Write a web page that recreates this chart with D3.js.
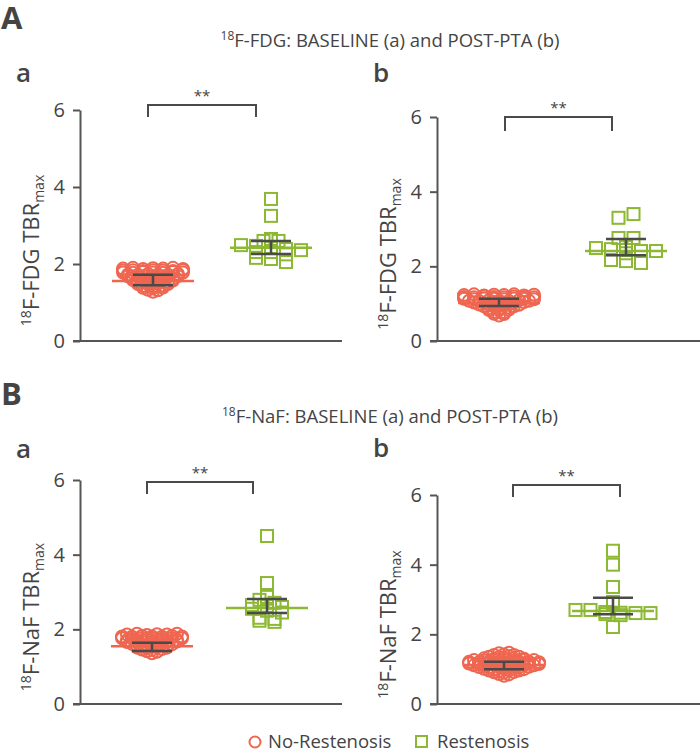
<!DOCTYPE html>
<html>
<head>
<meta charset="utf-8">
<script src="https://cdn.jsdelivr.net/npm/d3@7"></script>
<style>
    body { margin: 0; background: #fff; }
    text { font-family: "Open Sans", sans-serif; fill: #444; }
</style>
</head>
<body>
<svg id="chart" width="700" height="753"></svg>
<script>
    // groups and y ticks
    const groups = ["No-Restenosis", "Restenosis"];
    const yTicks = [0, 2, 4, 6];

    // 18F-FDG baseline (A a)
    const fdgBaseNo = [1.88, 1.9, 1.87, 1.89, 1.88, 1.9, 1.87,
        1.83, 1.84, 1.82, 1.84, 1.83, 1.82, 1.84,
        1.78, 1.77, 1.79, 1.78, 1.77, 1.79, 1.78,
        1.73, 1.72, 1.74, 1.73, 1.72, 1.74,
        1.68, 1.67, 1.69, 1.68, 1.67, 1.69,
        1.63, 1.62, 1.64, 1.63, 1.62,
        1.58, 1.57, 1.59, 1.58, 1.57,
        1.53, 1.52, 1.54, 1.53,
        1.48, 1.47, 1.49, 1.48,
        1.43, 1.42, 1.44,
        1.38, 1.37, 1.39,
        1.33, 1.32,
        1.28];
    const fdgBaseRe = [3.69, 3.25, 2.65, 2.6, 2.6, 2.49, 2.47, 2.42, 2.39, 2.36, 2.31, 2.31, 2.25, 2.16, 2.13, 2.05];
    const fdgBaseMed = [1.56, 2.42];
    const fdgBaseLo = [1.45, 2.26];
    const fdgBaseHi = [1.72, 2.6];

    // 18F-FDG post-PTA (A b)
    const fdgPostNo = [1.23, 1.25, 1.22, 1.24, 1.23, 1.25, 1.22, 1.24,
        1.18, 1.17, 1.19, 1.18, 1.17, 1.19, 1.18, 1.17,
        1.13, 1.12, 1.14, 1.13, 1.12, 1.14, 1.13, 1.12,
        1.08, 1.07, 1.09, 1.08, 1.07, 1.09, 1.08,
        1.03, 1.02, 1.04, 1.03, 1.02, 1.04,
        0.98, 0.97, 0.99, 0.98, 0.97,
        0.93, 0.92, 0.94, 0.93,
        0.88, 0.87, 0.89,
        0.83, 0.82, 0.84,
        0.78, 0.77,
        0.73, 0.72,
        0.68];
    const fdgPostRe = [3.3, 3.4, 2.76, 2.76, 2.52, 2.49, 2.46, 2.44, 2.41, 2.41, 2.35, 2.17, 2.14, 2.09];
    const fdgPostMed = [1.02, 2.41];
    const fdgPostLo = [0.94, 2.3];
    const fdgPostHi = [1.13, 2.73];

    // 18F-NaF baseline (B a)
    const nafBaseNo = [1.86, 1.88, 1.85, 1.87, 1.86, 1.88,
        1.81, 1.8, 1.82, 1.81, 1.8, 1.82, 1.81,
        1.76, 1.75, 1.77, 1.76, 1.75, 1.77, 1.76,
        1.71, 1.7, 1.72, 1.71, 1.7, 1.72,
        1.66, 1.65, 1.67, 1.66, 1.65, 1.67,
        1.61, 1.6, 1.62, 1.61, 1.6,
        1.56, 1.55, 1.57, 1.56,
        1.51, 1.5, 1.52, 1.51,
        1.46, 1.45, 1.47,
        1.41, 1.4,
        1.36];
    const nafBaseRe = [4.5, 3.24, 2.87, 2.79, 2.71, 2.65, 2.63, 2.6, 2.55, 2.5, 2.45, 2.31, 2.28, 2.23, 2.2];
    const nafBaseMed = [1.55, 2.57];
    const nafBaseLo = [1.42, 2.44];
    const nafBaseHi = [1.64, 2.81];

    // 18F-NaF post-PTA (B b)
    const nafPostNo = [1.46, 1.47,
        1.41, 1.42, 1.41,
        1.36, 1.35, 1.37, 1.36,
        1.31, 1.3, 1.32, 1.31, 1.3,
        1.26, 1.25, 1.27, 1.26, 1.25, 1.27, 1.26,
        1.21, 1.2, 1.22, 1.21, 1.2, 1.22, 1.21, 1.2,
        1.16, 1.15, 1.17, 1.16, 1.15, 1.17, 1.16, 1.15,
        1.11, 1.1, 1.12, 1.11, 1.1, 1.12, 1.11,
        1.06, 1.05, 1.07, 1.06, 1.05, 1.07,
        1.01, 1.0, 1.02, 1.01, 1.0,
        0.96, 0.95, 0.97, 0.96,
        0.91, 0.9, 0.92,
        0.86, 0.85,
        0.81];
    const nafPostRe = [4.4, 4.0, 3.36, 2.93, 2.9, 2.7, 2.7, 2.64, 2.62, 2.61, 2.61, 2.58, 2.55, 2.21];
    const nafPostMed = [1.12, 2.67];
    const nafPostLo = [1.0, 2.58];
    const nafPostHi = [1.21, 3.05];

    const red = "#ef6650";
    const green = "#8cb833";
    const dark = "#4a4a4a";
    const axisColor = "#555";

    const svg = d3.select("#chart");

    //pannelli: posizione degli assi e delle parentesi
    const panels = [
        {label: "a", tracer: "FDG", no: fdgBaseNo, re: fdgBaseRe, med: fdgBaseMed, lo: fdgBaseLo, hi: fdgBaseHi,
         ax: 80, y0: 341, y6: 110, xEnd: 342, c: [73, 191], br: [148, 256], brTop: 105, brBot: 117, lx: [16, 82]},
        {label: "b", tracer: "FDG", no: fdgPostNo, re: fdgPostRe, med: fdgPostMed, lo: fdgPostLo, hi: fdgPostHi,
         ax: 437, y0: 341, y6: 117, xEnd: 700, c: [62, 189], br: [505, 612], brTop: 117, brBot: 131, lx: [373, 82]},
        {label: "a", tracer: "NaF", no: nafBaseNo, re: nafBaseRe, med: nafBaseMed, lo: nafBaseLo, hi: nafBaseHi,
         ax: 80, y0: 704, y6: 480, xEnd: 342, c: [72, 187], br: [147, 253], brTop: 482, brBot: 494, lx: [16, 458]},
        {label: "b", tracer: "NaF", no: nafPostNo, re: nafPostRe, med: nafPostMed, lo: nafPostLo, hi: nafPostHi,
         ax: 437, y0: 704, y6: 495, xEnd: 700, c: [67, 176], br: [513, 620], brTop: 485, brBot: 497, lx: [373, 457]}
    ];

    // disposizione a righe stile "scatter dot plot": i punti di una stessa fascia di valori vengono affiancati
    function swarm(values, cx, binSize, spacing) {
        let vmax = d3.max(values);
        let rows = d3.group(values.map((v, i) => ({v, i})), d => Math.floor((vmax - d.v) / binSize + 1e-9));
        let out = [];
        for (let [, row] of rows) {
            row.forEach((d, k) => out.push({v: d.v, x: cx + (k - (row.length - 1) / 2) * spacing}));
        }
        return out;
    }

    function drawPanel(p) {
        let g = svg.append("g");
        let y = d3.scaleLinear().domain([0, 6]).range([p.y0, p.y6]);
        let x = d3.scalePoint().domain(groups).range([p.ax + p.c[0], p.ax + p.c[1]]);

        let axis = g.append("g")
            .attr("transform", `translate(${p.ax},0)`)
            .call(d3.axisLeft(y).tickValues(yTicks).tickFormat(d3.format("d"))
                .tickSize(7).tickSizeOuter(0).tickPadding(8));
        axis.select(".domain").attr("stroke", axisColor).attr("stroke-width", 2);
        axis.selectAll(".tick line").attr("stroke", axisColor).attr("stroke-width", 2);
        axis.selectAll(".tick text").attr("font-size", 20).attr("font-family", "Open Sans").attr("fill", "#444");

        g.append("line")
            .attr("x1", p.ax - 7).attr("x2", p.xEnd)
            .attr("y1", y(0)).attr("y2", y(0))
            .attr("stroke", axisColor).attr("stroke-width", 2);

        // punti
        g.append("g").selectAll("circle")
            .data(swarm(p.no, x(groups[0]), 0.05, 10))
            .join("circle")
            .attr("cx", d => d.x).attr("cy", d => y(d.v)).attr("r", 6)
            .attr("fill", "none").attr("stroke", red).attr("stroke-width", 2);
        g.append("g").selectAll("rect")
            .data(swarm(p.re, x(groups[1]), 0.15, 15))
            .join("rect")
            .attr("x", d => d.x - 6).attr("y", d => y(d.v) - 6)
            .attr("width", 12).attr("height", 12)
            .attr("fill", "none").attr("stroke", green).attr("stroke-width", 2);

        // mediana
        g.selectAll(".med")
            .data(groups)
            .join("line")
            .attr("x1", d => x(d) - 41).attr("x2", d => x(d) + 41)
            .attr("y1", (d, i) => y(p.med[i])).attr("y2", (d, i) => y(p.med[i]))
            .attr("stroke", (d, i) => i ? green : red).attr("stroke-width", 2.5);

        // barre di errore
        groups.forEach((grp, i) => {
            let cx = x(grp);
            g.append("path")
                .attr("d", `M${cx},${y(p.hi[i])}V${y(p.lo[i])}M${cx - 20},${y(p.hi[i])}H${cx + 20}M${cx - 20},${y(p.lo[i])}H${cx + 20}`)
                .attr("fill", "none").attr("stroke", dark).attr("stroke-width", 2.5);
        });

        // parentesi di significatività
        g.append("path")
            .attr("d", `M${p.br[0]},${p.brBot}V${p.brTop}H${p.br[1]}V${p.brBot}`)
            .attr("fill", "none").attr("stroke", dark).attr("stroke-width", 2);
        g.append("text")
            .attr("x", (p.br[0] + p.br[1]) / 2).attr("y", p.brTop - 4)
            .attr("text-anchor", "middle").attr("font-size", 15)
            .text("**");

        // etichetta asse y
        let yl = g.append("text")
            .attr("transform", `translate(${p.ax - 41},${(p.y0 + p.y6) / 2 + 25}) rotate(-90)`)
            .attr("text-anchor", "middle").attr("font-size", 22);
        yl.append("tspan").attr("font-size", 14).attr("dy", -8).text("18");
        yl.append("tspan").attr("dy", 8).text(`F-${p.tracer} TBR`);
        yl.append("tspan").attr("font-size", 14).attr("dy", 5).text("max");

        svg.append("text")
            .attr("x", p.lx[0]).attr("y", p.lx[1])
            .attr("font-size", 26).attr("font-weight", 600).attr("fill", "#333")
            .text(p.label);
    }

    panels.forEach(drawPanel);

    // lettere e titoli delle sezioni
    [["A", 29, 47, "FDG"], ["B", 405, 423, "NaF"]].forEach(s => {
        svg.append("text").attr("x", 1).attr("y", s[1])
            .attr("font-family", "Liberation Sans")
            .attr("font-size", 31).attr("font-weight", 700).attr("fill", "#333")
            .text(s[0]);
        let t = svg.append("text").attr("x", 390).attr("y", s[2])
            .attr("text-anchor", "middle").attr("font-size", 18.5);
        t.append("tspan").attr("font-size", 12).attr("dy", -7).text("18");
        t.append("tspan").attr("dy", 7).text(`F-${s[3]}: BASELINE (a) and POST-PTA (b)`);
    });

    // legenda
    let legend = svg.append("g");
    legend.append("circle").attr("cx", 255).attr("cy", 742).attr("r", 5.5)
        .attr("fill", "none").attr("stroke", red).attr("stroke-width", 2);
    legend.append("text").attr("x", 268).attr("y", 748).attr("font-size", 18.5).text(groups[0]);
    legend.append("rect").attr("x", 416).attr("y", 736).attr("width", 11).attr("height", 11)
        .attr("fill", "none").attr("stroke", green).attr("stroke-width", 2);
    legend.append("text").attr("x", 437).attr("y", 748).attr("font-size", 18.5).text(groups[1]);
</script>
</body>
</html>
